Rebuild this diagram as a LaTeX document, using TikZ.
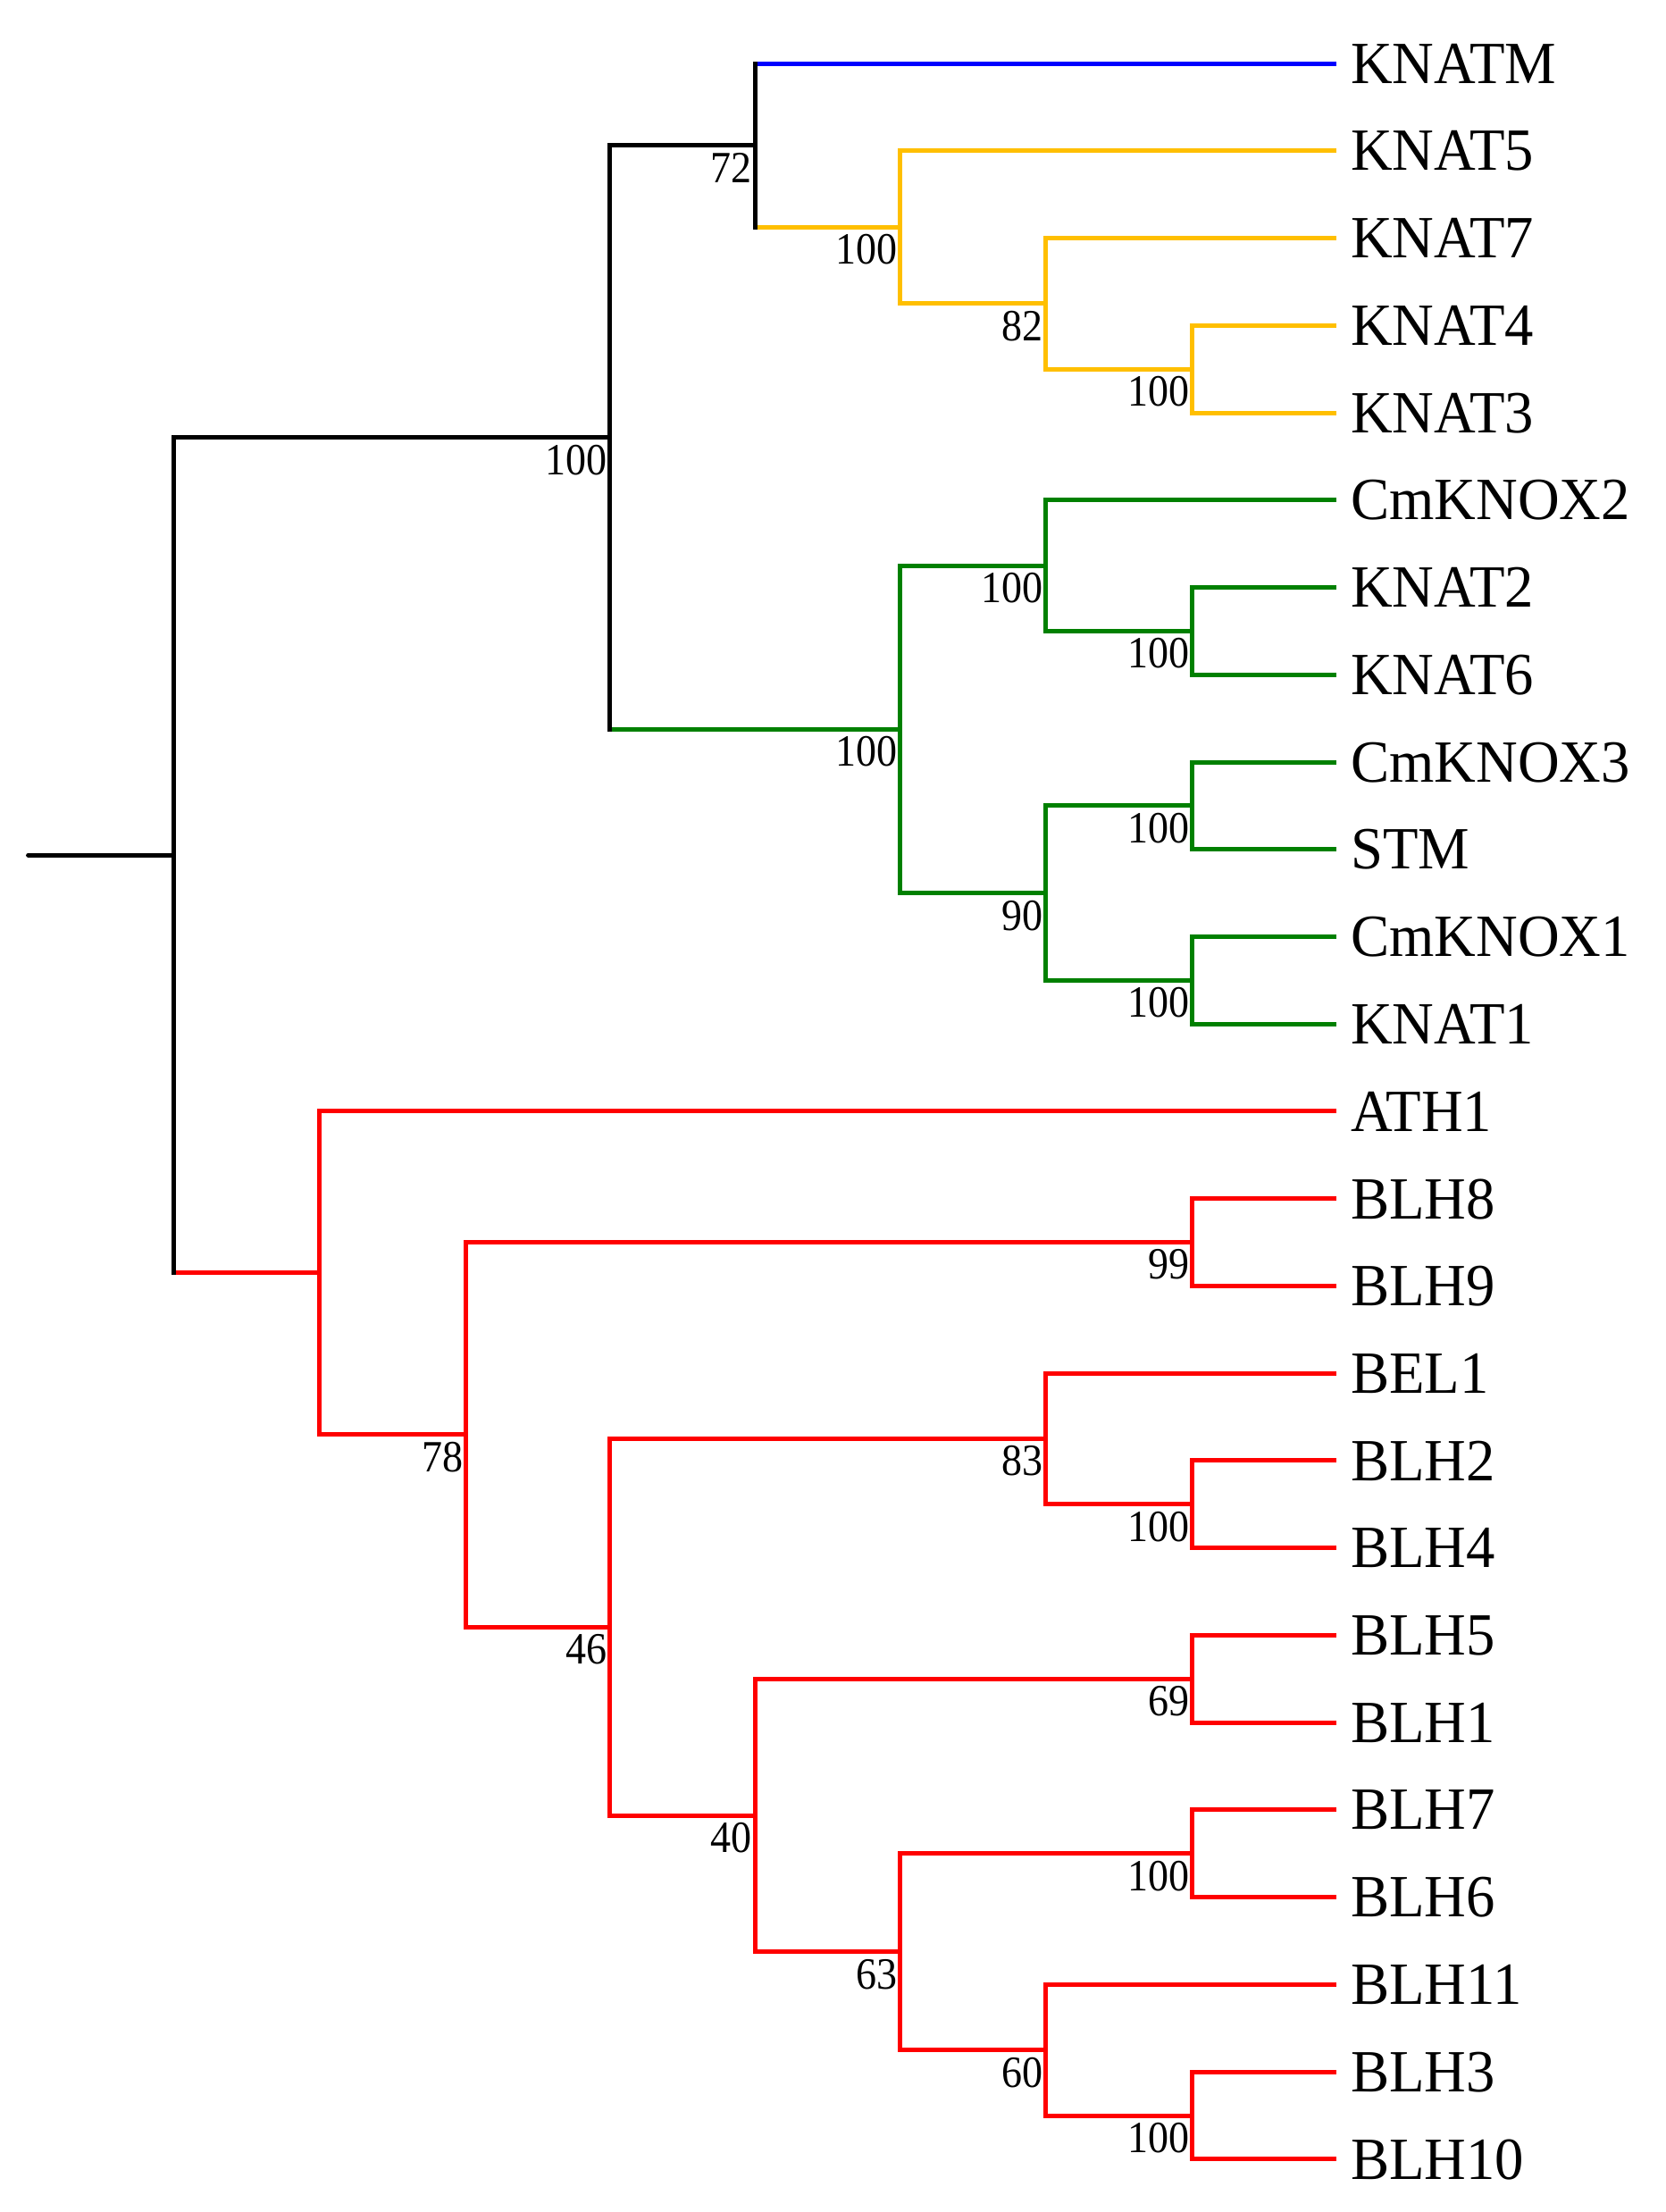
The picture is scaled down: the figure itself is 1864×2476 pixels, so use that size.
\documentclass[tikz,border=0pt]{standalone}
\usepackage{fontspec}
\setmainfont{Liberation Serif}[FakeStretch=0.92]
\newfontfamily\leaffont{Liberation Serif}[FakeStretch=0.965]
\definecolor{cblue}{RGB}{0,0,255}
\definecolor{cyel}{RGB}{255,191,0}
\definecolor{cgrn}{RGB}{0,128,0}
\definecolor{cred}{RGB}{255,0,0}
\newcommand\Yc[1]{-71.1-97.74*#1}
\newcommand\HE[3]{\draw[br,#1] (#2 |- #3) -- (#3);}
\newcommand\VE[4]{\draw[vt,#1] (#2 |- #3) -- (#2 |- #4);}
\tikzset{
  br/.style={line width=5pt, line cap=butt},
  vt/.style={line width=5pt, line cap=rect},
  leaf/.style={anchor=west, inner xsep=16pt, inner ysep=0pt, text depth=0pt, font=\leaffont\fontsize{67}{67}\selectfont},
  bs/.style={anchor=north east, inner sep=0pt, xshift=-3pt, yshift=-8pt, font=\fontsize{50}{50}\selectfont},
}
\begin{document}
\begin{tikzpicture}[x=1pt,y=1pt]
\useasboundingbox (0,0) rectangle (1864,-2476);
% leaves
\foreach \n/\i in {KNATM/0,KNAT5/1,KNAT7/2,KNAT4/3,KNAT3/4,CmKNOX2/5,KNAT2/6,KNAT6/7,CmKNOX3/8,STM/9,CmKNOX1/10,KNAT1/11,ATH1/12,BLH8/13,BLH9/14,BEL1/15,BLH2/16,BLH4/17,BLH5/18,BLH1/19,BLH7/20,BLH6/21,BLH11/22,BLH3/23,BLH10/24}
  {\node[leaf] (\n) at (1496,{\Yc{\i}}) {\n};}
% internal nodes
\coordinate (root0) at (31.6,{\Yc{9.06640625}});
\coordinate (Rt) at (194.3,{\Yc{9.06640625}});
\coordinate (A) at (682.4,{\Yc{4.28125}});
\coordinate (B) at (357,{\Yc{13.8515625}});
\coordinate (C) at (845.1,{\Yc{0.9375}});
\coordinate (D) at (1007.8,{\Yc{7.625}});
\coordinate (E) at (1007.8,{\Yc{1.875}});
\coordinate (F) at (1170.6,{\Yc{2.75}});
\coordinate (G) at (1334.9,{\Yc{3.5}});
\coordinate (H) at (1170.6,{\Yc{5.75}});
\coordinate (J) at (1334.9,{\Yc{6.5}});
\coordinate (I) at (1170.6,{\Yc{9.5}});
\coordinate (K) at (1334.9,{\Yc{8.5}});
\coordinate (Ln) at (1334.9,{\Yc{10.5}});
\coordinate (M) at (521.3,{\Yc{15.703125}});
\coordinate (N) at (1334.9,{\Yc{13.5}});
\coordinate (O) at (682.4,{\Yc{17.90625}});
\coordinate (P) at (1170.6,{\Yc{15.75}});
\coordinate (Rr) at (1334.9,{\Yc{16.5}});
\coordinate (Q) at (845.1,{\Yc{20.0625}});
\coordinate (S) at (1334.9,{\Yc{18.5}});
\coordinate (T) at (1007.8,{\Yc{21.625}});
\coordinate (U) at (1334.9,{\Yc{20.5}});
\coordinate (V) at (1170.6,{\Yc{22.75}});
\coordinate (W) at (1334.9,{\Yc{23.5}});
% horizontal branches (colour of child)
\draw[line width=5pt, line cap=round] (root0) -- (Rt);
\HE{black}{Rt}{A} \HE{cred}{Rt}{B}
\HE{black}{A}{C} \HE{cgrn}{A}{D}
\HE{cblue}{C}{KNATM.west} \HE{cyel}{C}{E}
\HE{cyel}{E}{KNAT5.west} \HE{cyel}{E}{F}
\HE{cyel}{F}{KNAT7.west} \HE{cyel}{F}{G}
\HE{cyel}{G}{KNAT4.west} \HE{cyel}{G}{KNAT3.west}
\HE{cgrn}{D}{H} \HE{cgrn}{D}{I}
\HE{cgrn}{H}{CmKNOX2.west} \HE{cgrn}{H}{J}
\HE{cgrn}{J}{KNAT2.west} \HE{cgrn}{J}{KNAT6.west}
\HE{cgrn}{I}{K} \HE{cgrn}{I}{Ln}
\HE{cgrn}{K}{CmKNOX3.west} \HE{cgrn}{K}{STM.west}
\HE{cgrn}{Ln}{CmKNOX1.west} \HE{cgrn}{Ln}{KNAT1.west}
\HE{cred}{B}{ATH1.west} \HE{cred}{B}{M}
\HE{cred}{M}{N} \HE{cred}{M}{O}
\HE{cred}{N}{BLH8.west} \HE{cred}{N}{BLH9.west}
\HE{cred}{O}{P} \HE{cred}{O}{Q}
\HE{cred}{P}{BEL1.west} \HE{cred}{P}{Rr}
\HE{cred}{Rr}{BLH2.west} \HE{cred}{Rr}{BLH4.west}
\HE{cred}{Q}{S} \HE{cred}{Q}{T}
\HE{cred}{S}{BLH5.west} \HE{cred}{S}{BLH1.west}
\HE{cred}{T}{U} \HE{cred}{T}{V}
\HE{cred}{U}{BLH7.west} \HE{cred}{U}{BLH6.west}
\HE{cred}{V}{BLH11.west} \HE{cred}{V}{W}
\HE{cred}{W}{BLH3.west} \HE{cred}{W}{BLH10.west}
% vertical branches (colour of node)
\VE{black}{Rt}{A}{B}
\VE{black}{A}{C}{D}
\VE{black}{C}{KNATM.west}{E}
\VE{cyel}{E}{KNAT5.west}{F}
\VE{cyel}{F}{KNAT7.west}{G}
\VE{cyel}{G}{KNAT4.west}{KNAT3.west}
\VE{cgrn}{D}{H}{I}
\VE{cgrn}{H}{CmKNOX2.west}{J}
\VE{cgrn}{J}{KNAT2.west}{KNAT6.west}
\VE{cgrn}{I}{K}{Ln}
\VE{cgrn}{K}{CmKNOX3.west}{STM.west}
\VE{cgrn}{Ln}{CmKNOX1.west}{KNAT1.west}
\VE{cred}{B}{ATH1.west}{M}
\VE{cred}{M}{N}{O}
\VE{cred}{N}{BLH8.west}{BLH9.west}
\VE{cred}{O}{P}{Q}
\VE{cred}{P}{BEL1.west}{Rr}
\VE{cred}{Rr}{BLH2.west}{BLH4.west}
\VE{cred}{Q}{S}{T}
\VE{cred}{S}{BLH5.west}{BLH1.west}
\VE{cred}{T}{U}{V}
\VE{cred}{U}{BLH7.west}{BLH6.west}
\VE{cred}{V}{BLH11.west}{W}
\VE{cred}{W}{BLH3.west}{BLH10.west}
% bootstrap labels
\node[bs] (bA) at (A) {100};
\node[bs] (bC) at (C) {72};
\node[bs] (bE) at (E) {100};
\node[bs] (bF) at (F) {82};
\node[bs] (bG) at (G) {100};
\node[bs] (bD) at (D) {100};
\node[bs] (bH) at (H) {100};
\node[bs] (bJ) at (J) {100};
\node[bs] (bI) at (I) {90};
\node[bs] (bK) at (K) {100};
\node[bs] (bLn) at (Ln) {100};
\node[bs] (bM) at (M) {78};
\node[bs] (bN) at (N) {99};
\node[bs] (bO) at (O) {46};
\node[bs] (bP) at (P) {83};
\node[bs] (bRr) at (Rr) {100};
\node[bs] (bQ) at (Q) {40};
\node[bs] (bS) at (S) {69};
\node[bs] (bT) at (T) {63};
\node[bs] (bU) at (U) {100};
\node[bs] (bV) at (V) {60};
\node[bs] (bW) at (W) {100};
\end{tikzpicture}
\end{document}
